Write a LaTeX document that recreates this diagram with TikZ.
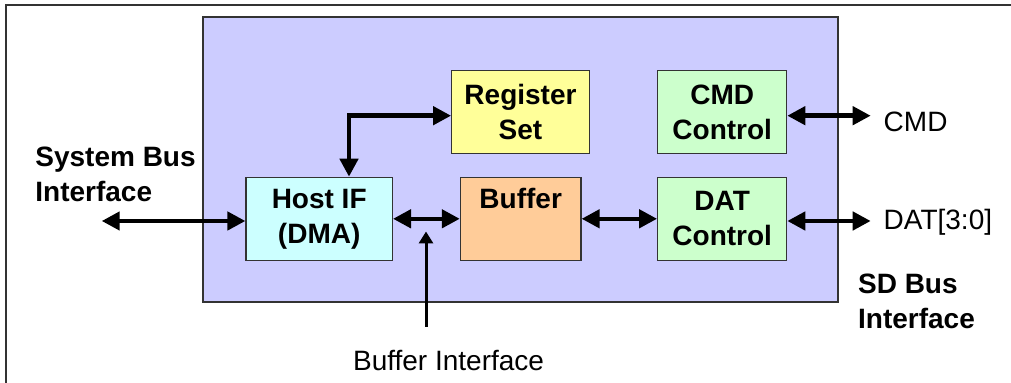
\documentclass[tikz,border=0pt]{standalone}
\usepackage{fontspec}
\setmainfont{Liberation Sans}
\usetikzlibrary{arrows.meta}
\definecolor{chip}{HTML}{CCCCFF}
\definecolor{regc}{HTML}{FFFF99}
\definecolor{hostc}{HTML}{CCFFFF}
\definecolor{bufc}{HTML}{FFCC99}
\definecolor{ctlc}{HTML}{CCFFCC}
\begin{document}
\begin{tikzpicture}[x=0.5pt,y=-0.5pt,
  txt/.style={font=\fontsize{14}{17.5}\selectfont,inner sep=0pt},
  btxt/.style={font=\bfseries\fontsize{14}{17.5}\selectfont,inner sep=0pt},
  blk/.style={btxt,draw=black!80,line width=0.6pt,minimum height=41.5pt,align=center},
  bus/.style={line width=2.2pt,{Triangle[length=9pt,width=9pt]}-{Triangle[length=9pt,width=9pt]}}]
\useasboundingbox (0,0) rectangle (1011,383);
\draw[black!80,line width=0.6pt] (6,383) -- (6,5) -- (1011,5);
\draw[black!80,fill=chip,line width=0.8pt] (203,17) rectangle (838,302);
\node [blk,fill=regc,minimum width=68.8pt] (reg) at (520.5,112.3) {Register\\Set};
\node [blk,fill=ctlc,minimum width=64.5pt] (cmd) at (722.2,112.3) {CMD\\Control};
\node [blk,fill=hostc,minimum width=73.2pt] (host) at (319.2,218.8) {Host IF\\(DMA)};
\node [blk,fill=bufc,minimum width=60.3pt] (buf) at (520.7,218.8) {Buffer\\\phantom{(DMA)}};
\node [blk,fill=ctlc,minimum width=64.5pt] (dat) at (722.2,218.8) {DAT\\Control};
\coordinate (hr) at (349,115.7);
\coordinate (sys) at (101.7,221);
\coordinate (cmdend) at (870.7,115.7);
\coordinate (datend) at (870.7,221);
\coordinate (bi) at (426,327);
\coordinate (bitip) at (426,231.5);
\draw[bus] (hr -| reg.west) -- (hr) -- (hr |- host.north);
\draw[bus] (sys) -- (sys -| host.west);
\draw[bus] (host.east) -- (buf.west);
\draw[bus] (buf.east) -- (dat.west);
\draw[bus] (cmdend -| cmd.east) -- (cmdend);
\draw[bus] (datend -| dat.east) -- (datend);
\draw[line width=1.5pt,-{Triangle[length=6pt,width=7pt]}] (bi) -- (bitip);
\node [btxt,anchor=north west,align=left] (sysl) at (35,147) {System Bus\\Interface};
\node [btxt,anchor=north west,align=left] (sdl) at (857.7,273.3) {SD Bus\\Interface};
\node [txt,anchor=base west] (cmdl) at (883.3,131.7) {CMD};
\node [txt,anchor=base west] (datl) at (883.3,229.3) {DAT[3:0]};
\node [txt,anchor=base west] (bil) at (352.7,370.7) {Buffer Interface};
\end{tikzpicture}
\end{document}
